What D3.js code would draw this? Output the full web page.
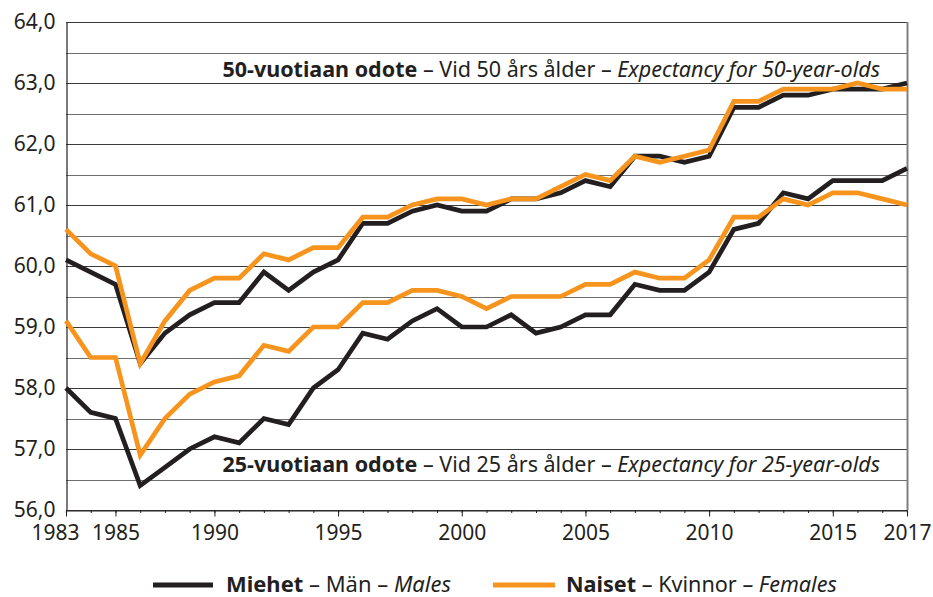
<!DOCTYPE html>
<html><head><meta charset="utf-8">
<script src="https://cdn.jsdelivr.net/npm/d3@7"></script>
<style>
body{margin:0;background:#fff}
svg{display:block}
text{font-family:"Noto Sans",sans-serif;fill:#231f20}
</style>
</head><body>
<svg id="c" width="933" height="597"></svg>
<script>
const years=[1983,1984,1985,1986,1987,1988,1989,1990,1991,1992,1993,1994,1995,1996,1997,1998,1999,2000,2001,2002,2003,2004,2005,2006,2007,2008,2009,2010,2011,2012,2013,2014,2015,2016,2017];
const men50=[60.1,59.9,59.7,58.4,58.9,59.2,59.4,59.4,59.9,59.6,59.9,60.1,60.7,60.7,60.9,61.0,60.9,60.9,61.1,61.1,61.2,61.4,61.3,61.8,61.8,61.7,61.8,62.6,62.6,62.8,62.8,62.9,62.9,62.9,63.0];
const women50=[60.6,60.2,60.0,58.4,59.1,59.6,59.8,59.8,60.2,60.1,60.3,60.3,60.8,60.8,61.0,61.1,61.1,61.0,61.1,61.1,61.3,61.5,61.4,61.8,61.7,61.8,61.9,62.7,62.7,62.9,62.9,62.9,63.0,62.9,62.9];
const men25=[58.0,57.6,57.5,56.4,56.7,57.0,57.2,57.1,57.5,57.4,58.0,58.3,58.9,58.8,59.1,59.3,59.0,59.0,59.2,58.9,59.0,59.2,59.2,59.7,59.6,59.6,59.9,60.6,60.7,61.2,61.1,61.4,61.4,61.4,61.6];
const women25=[59.1,58.5,58.5,56.9,57.5,57.9,58.1,58.2,58.7,58.6,59.0,59.0,59.4,59.4,59.6,59.6,59.5,59.3,59.5,59.5,59.5,59.7,59.7,59.9,59.8,59.8,60.1,60.8,60.8,61.1,61.0,61.2,61.2,61.1,61.0];
const yLabelTicks=[56,57,58,59,60,61,62,63,64];
const yGridTicks=[56,56.5,57,57.5,58,58.5,59,59.5,60,60.5,61,61.5,62,62.5,63,63.5,64];
const xTickYears=[1983,1985,1989,1994,1999,2004,2009,2014,2017];
const xTickLabels=["1983","1985","1990","1995","2000","2005","2010","2015","2017"];
const colors={men:"#231f20",women:"#f7941d"};

const L=66,R=907,T=22,B=510;
const svg=d3.select("#c");
const x=d3.scalePoint().domain(years).range([L,R]);
const y=d3.scaleLinear().domain([56,64]).range([B,T]);

// gridlines
svg.append("g").selectAll("line").data(yGridTicks).join("line")
  .attr("x1",L).attr("x2",R).attr("y1",d=>Math.round(y(d))+0.5).attr("y2",d=>Math.round(y(d))+0.5)
  .attr("stroke",(d)=>Number.isInteger(d)?"#3a3a3a":"#6e6e6e").attr("stroke-width",1.2);

// right border
svg.append("line").attr("x1",R+0.5).attr("x2",R+0.5).attr("y1",T).attr("y2",B)
  .attr("stroke","#808080").attr("stroke-width",2);

// y axis
const yAxis=d3.axisLeft(y).tickValues(yLabelTicks).tickSize(0).tickPadding(11)
  .tickFormat(d=>d3.format(".1f")(d).replace(".",","));
const gy=svg.append("g").attr("transform",`translate(${L+0.5},0)`).call(yAxis);
gy.select(".domain").attr("stroke","#231f20").attr("stroke-width",1.2);
gy.selectAll("text").attr("font-size",21).attr("font-family","Noto Sans").attr("fill","#231f20");

// x axis minor ticks
const gxm=svg.append("g").attr("transform",`translate(0,${B+0.5})`)
  .call(d3.axisBottom(x).tickValues(years).tickSize(2.5).tickFormat(""));
gxm.select(".domain").attr("stroke","#231f20").attr("stroke-width",1.2);
gxm.selectAll("line").attr("stroke","#231f20");
// x axis major ticks
const gx=svg.append("g").attr("transform",`translate(0,${B+0.5})`)
  .call(d3.axisBottom(x).tickValues(xTickYears).tickSize(6).tickPadding(9)
    .tickFormat((d,i)=>xTickLabels[i]));
gx.select(".domain").remove();
gx.selectAll("line").attr("stroke","#231f20");
gx.selectAll("text").attr("font-size",21).attr("font-family","Noto Sans").attr("fill","#231f20")
  .attr("dx",(d,i)=>i===0?-11:0);

// lines
const line=d3.line().x((d,i)=>x(years[i])).y(d=>y(d));
const series=[{v:men50,c:colors.men},{v:men25,c:colors.men},{v:women50,c:colors.women},{v:women25,c:colors.women}];
svg.append("g").selectAll("path").data(series).join("path")
  .attr("d",d=>line(d.v)).attr("fill","none").attr("stroke",d=>d.c)
  .attr("stroke-width",4.7).attr("stroke-linejoin","miter").attr("stroke-linecap","butt");

// annotations
function annot(age,yb){
  const t=svg.append("text").attr("x",880).attr("y",yb).attr("text-anchor","end").attr("font-size",20);
  t.append("tspan").attr("font-weight","bold").text(`${age}-vuotiaan odote`);
  t.append("tspan").text(` – Vid ${age} års ålder – `);
  t.append("tspan").attr("font-style","italic").text(`Expectancy for ${age}-year-olds`);
  const w=t.node().getComputedTextLength();
  t.attr("font-size",20*658/w);
}
annot(50,77);
annot(25,472);

// legend
function legend(x0,x1,tx,c,b,r,it){
  svg.append("line").attr("x1",x0).attr("x2",x1).attr("y1",585).attr("y2",585)
    .attr("stroke",c).attr("stroke-width",5);
  const t=svg.append("text").attr("x",tx).attr("y",592).attr("font-size",20);
  t.append("tspan").attr("font-weight","bold").text(b);
  t.append("tspan").text(r);
  t.append("tspan").attr("font-style","italic").text(it);
  return t;
}
const l1=legend(153,213,226,colors.men,"Miehet"," – Män – ","Males");
const l2=legend(493,555,566,colors.women,"Naiset"," – Kvinnor – ","Females");
[[l1,225],[l2,271]].forEach(([t,tw])=>{
  const w=t.node().getComputedTextLength();
  t.attr("font-size",20*tw/w);
});
</script>
</body></html>
